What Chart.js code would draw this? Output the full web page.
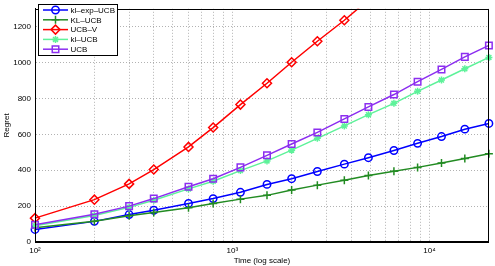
<!DOCTYPE html>
<html>
<head>
<meta charset="utf-8">
<script src="https://cdn.jsdelivr.net/npm/chart.js@4/dist/chart.umd.min.js"></script>
<style>
  body { margin: 0; background: #fff; }
  canvas { display: block; }
</style>
</head>
<body>
<canvas id="myChart" width="495" height="266"></canvas>
<script>
// time horizons (x, log scale)
const times = [100, 200, 300, 400, 600, 800, 1100, 1500, 2000, 2700, 3700, 4900, 6600, 8700, 11500, 15100, 20000];

// regret of each policy
const klExpUcb = [70, 115, 153, 177, 215, 242, 277, 321, 353, 393, 434, 470, 510, 550, 588, 629, 661];
const klUcbBig = [80, 116, 146, 164, 191, 215, 239, 260, 290, 317, 344, 371, 395, 416, 440, 466, 492];
const ucbV     = [133, 236, 324, 404, 530, 638, 766, 885, 1002, 1119, 1236, 1350, null, null, null, null, null];
const klUcb    = [90, 148, 193, 233, 296, 339, 398, 452, 512, 578, 647, 710, 773, 840, 903, 966, 1029];
const ucb      = [96, 155, 200, 242, 308, 353, 416, 483, 546, 611, 686, 753, 822, 894, 962, 1032, 1096];

const xTicks = [100, 200, 300, 400, 500, 600, 700, 800, 900,
                1000, 2000, 3000, 4000, 5000, 6000, 7000, 8000, 9000,
                10000, 20000];
const xTickLabels = { 100: '10²', 1000: '10³', 10000: '10⁴' };
const yTicks = [0, 200, 400, 600, 800, 1000, 1200];

function pts(ys) {
    return times.map((t, i) => ({ x: t, y: ys[i] }));
}

function series(label, ys, color, style, radius, order) {
    return {
        label: label,
        data: pts(ys),
        borderColor: color,
        backgroundColor: color,
        borderWidth: 1.5,
        pointStyle: style,
        pointRadius: radius,
        pointBorderColor: color,
        pointBackgroundColor: 'rgba(0,0,0,0)',
        pointBorderWidth: 1.5,
        tension: 0,
        order: order,
        clip: { left: 6, right: 6, top: 0, bottom: 6 }
    };
}

const frameAndLegend = {
    id: 'frameAndLegend',
    afterDraw(chart) {
        const ctx = chart.ctx;
        const a = chart.chartArea;
        ctx.save();
        ctx.strokeStyle = '#000';
        ctx.lineWidth = 1;
        ctx.strokeRect(Math.round(a.left) + 0.5, Math.round(a.top) + 0.5,
                       Math.round(a.right - a.left) - 1, Math.round(a.bottom - a.top) - 1);

        // legend box
        const bx = 38, by = 4, bw = 79, bh = 51;
        ctx.fillStyle = '#fff';
        ctx.fillRect(bx, by, bw, bh);
        ctx.strokeRect(bx + 0.5, by + 0.5, bw, bh);
        ctx.font = '8px "Liberation Sans", Arial, sans-serif';
        ctx.textBaseline = 'middle';
        chart.data.datasets.forEach((ds, i) => {
            const y = 10 + i * 9.8;
            ctx.strokeStyle = ds.borderColor;
            ctx.lineWidth = ds.borderWidth;
            ctx.beginPath();
            ctx.moveTo(43, y);
            ctx.lineTo(68, y);
            ctx.stroke();
            ctx.lineWidth = ds.pointBorderWidth;
            ctx.fillStyle = 'rgba(0,0,0,0)';
            Chart.helpers.drawPoint(ctx, { pointStyle: ds.pointStyle, radius: ds.pointRadius, rotation: 0, borderWidth: ds.pointBorderWidth }, 55.5, y);
            ctx.fillStyle = '#000';
            ctx.fillText(ds.label, 70.5, y + 0.5);
        });
        ctx.restore();
    }
};

const ctx = document.getElementById('myChart').getContext('2d');
const myChart = new Chart(ctx, {
    type: 'line',
    data: {
        datasets: [
            series('kl–exp–UCB', klExpUcb, '#0000ff', 'circle', 3.7, 5),
            series('KL–UCB', klUcbBig, '#228b22', 'cross', 4, 4),
            series('UCB–V', ucbV, '#ff0000', 'rectRot', 4.5, 3),
            series('kl–UCB', klUcb, '#5ef29a', 'star', 3.5, 2),
            series('UCB', ucb, '#8c2ef0', 'rect', 4.6, 1)
        ]
    },
    options: {
        responsive: false,
        animation: false,
        layout: { padding: { left: 0, right: 5, top: 1, bottom: 0 } },
        plugins: {
            legend: { display: false },
            tooltip: { enabled: false }
        },
        scales: {
            x: {
                type: 'logarithmic',
                min: 100,
                max: 20000,
                afterBuildTicks: s => { s.ticks = xTicks.map(v => ({ value: v })); },
                afterFit: s => { s.height = 24; },
                ticks: {
                    autoSkip: false,
                    maxRotation: 0,
                    padding: 4,
                    color: '#000',
                    font: { family: '"Liberation Sans", Arial, sans-serif', size: 8 },
                    callback: v => xTickLabels[v] || ''
                },
                grid: { color: 'rgba(0,0,0,0.3)', lineWidth: 1, drawTicks: false },
                border: { display: true, color: '#000', dash: [1, 2] },
                title: {
                    display: true,
                    text: 'Time (log scale)',
                    color: '#000',
                    padding: { top: 0, bottom: 0 },
                    font: { family: '"Liberation Sans", Arial, sans-serif', size: 8 }
                }
            },
            y: {
                min: 0,
                max: 1300,
                afterBuildTicks: s => { s.ticks = yTicks.map(v => ({ value: v })); },
                afterFit: s => { s.width = 35; },
                ticks: {
                    padding: 4,
                    color: '#000',
                    font: { family: '"Liberation Sans", Arial, sans-serif', size: 8 },
                    callback: v => String(v)
                },
                grid: { color: 'rgba(0,0,0,0.3)', lineWidth: 1, drawTicks: false },
                border: { display: true, color: '#000', dash: [1, 2] },
                title: {
                    display: true,
                    text: 'Regret',
                    color: '#000',
                    padding: { top: 2, bottom: 0 },
                    font: { family: '"Liberation Sans", Arial, sans-serif', size: 8 }
                }
            }
        }
    },
    plugins: [frameAndLegend]
});
</script>
</body>
</html>
